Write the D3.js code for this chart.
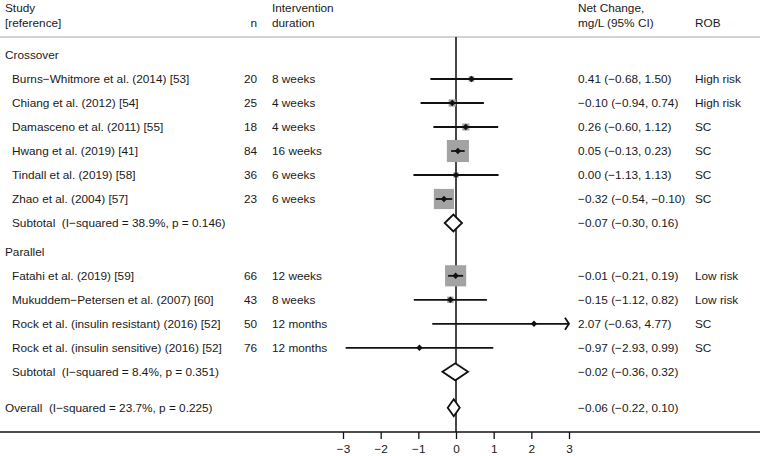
<!DOCTYPE html>
<html>
<head>
<meta charset="utf-8">
<script src="https://cdn.jsdelivr.net/npm/d3@7"></script>
<style>
  body { margin: 0; background: #fff; }
  text { font-family: "Liberation Sans", Arial, sans-serif; font-size: 11.8px; fill: #1a1a1a; white-space: pre; }
</style>
</head>
<body>
<div id="chart"></div>
<script>
/* Data */
const groups = ["Crossover", "Parallel"]

const studies = [
  "Burns−Whitmore et al. (2014) [53]",
  "Chiang et al. (2012) [54]",
  "Damasceno et al. (2011) [55]",
  "Hwang et al. (2019) [41]",
  "Tindall et al. (2019) [58]",
  "Zhao et al. (2004) [57]",
  "Fatahi et al. (2019) [59]",
  "Mukuddem−Petersen et al. (2007) [60]",
  "Rock et al. (insulin resistant) (2016) [52]",
  "Rock et al. (insulin sensitive) (2016) [52]",
]
const studyGroup = [0, 0, 0, 0, 0, 0, 1, 1, 1, 1]
const nValues = [20, 25, 18, 84, 36, 23, 66, 43, 50, 76]
const durations = ["8 weeks", "4 weeks", "4 weeks", "16 weeks", "6 weeks", "6 weeks",
                   "12 weeks", "8 weeks", "12 months", "12 months"]
const estimates = [0.41, -0.10, 0.26, 0.05, 0.00, -0.32, -0.01, -0.15, 2.07, -0.97]
const lower = [-0.68, -0.94, -0.60, -0.13, -1.13, -0.54, -0.21, -1.12, -0.63, -2.93]
const upper = [1.50, 0.74, 1.12, 0.23, 1.13, -0.10, 0.19, 0.82, 4.77, 0.99]
const rob = ["High risk", "High risk", "SC", "SC", "SC", "SC", "Low risk", "Low risk", "SC", "SC"]
// approximate % weights
const weights = [2.0, 3.4, 3.2, 31.3, 1.9, 26.1, 28.6, 2.6, 0.3, 0.7]

const pooledLabels = [
  "Subtotal  (I−squared = 38.9%, p = 0.146)",
  "Subtotal  (I−squared = 8.4%, p = 0.351)",
  "Overall  (I−squared = 23.7%, p = 0.225)",
]
const pooledEst = [-0.07, -0.02, -0.06]
const pooledLo = [-0.30, -0.36, -0.22]
const pooledHi = [0.16, 0.32, 0.10]

const xTicks = [-3, -2, -1, 0, 1, 2, 3]
/* End Data */

const width = 760
const height = 456

const svg = d3.select("#chart").append("svg")
    .attr("width", width)
    .attr("height", height)

const x = d3.scaleLinear().domain([-3, 3]).range([343, 569])
const y = d3.scaleLinear().domain([0, 1]).range([55, 79])
const boxSide = d3.scaleSqrt().domain([0, 100]).range([0, 39.5])

const fmt = d3.format(".2f")
const ci = (e, l, h) => `${fmt(e)} (${fmt(l)}, ${fmt(h)})`

// build row layout: group header, studies, subtotal, then a gap
const rows = []
let r = 0
groups.forEach((g, gi) => {
  rows.push({type: "group", label: g, row: r})
  r += 1
  studies.forEach((s, i) => {
    if (studyGroup[i] !== gi) return
    rows.push({type: "study", i, row: r})
    r += 1
  })
  rows.push({type: "pooled", i: gi, row: r})
  r += 1.2
})
rows.push({type: "pooled", i: 2, row: r + 0.3, overall: true})

const colStudy = 5
const colIndent = 12
const colN = 257
const colDur = 272
const colCI = 578
const colRob = 695

// header
const header = [
  {t: "Study", x: colStudy, y: 8},
  {t: "[reference]", x: colStudy, y: 23},
  {t: "n", x: colN, y: 23, anchor: "end"},
  {t: "Intervention", x: colDur, y: 8},
  {t: "duration", x: colDur, y: 23},
  {t: "Net Change,", x: colCI, y: 8},
  {t: "mg/L (95% CI)", x: colCI, y: 23},
  {t: "ROB", x: colRob, y: 23},
]
svg.selectAll("text.head").data(header).join("text")
    .attr("class", "head")
    .attr("x", d => d.x)
    .attr("y", d => d.y)
    .attr("dy", "0.35em")
    .attr("text-anchor", d => d.anchor || "start")
    .text(d => d.t)

svg.append("line")
    .attr("x1", 0).attr("x2", width)
    .attr("y1", 37).attr("y2", 37)
    .attr("stroke", "#a8a8a8")
    .attr("stroke-width", 1.2)

const axisY = 432

// zero line
svg.append("line")
    .attr("x1", x(0)).attr("x2", x(0))
    .attr("y1", 37).attr("y2", axisY)
    .attr("stroke", "#1a1a1a")
    .attr("stroke-width", 1.6)

const addText = (tx, ty, t, anchor) => svg.append("text")
    .attr("x", tx).attr("y", ty)
    .attr("dy", "0.35em")
    .attr("text-anchor", anchor || "start")
    .text(t)

const diamondPath = (e, l, h, cy, hh) =>
  `M${x(l)},${cy} L${x(e)},${cy - hh} L${x(h)},${cy} L${x(e)},${cy + hh} Z`

rows.forEach(d => {
  const cy = y(d.row)
  if (d.type === "group") {
    addText(colStudy, cy, d.label)
  } else if (d.type === "study") {
    const i = d.i
    addText(colIndent, cy, studies[i])
    addText(colN, cy, nValues[i], "end")
    addText(colDur, cy, durations[i])
    addText(colCI, cy, ci(estimates[i], lower[i], upper[i]))
    addText(colRob, cy, rob[i])

    const s = boxSide(weights[i])
    svg.append("rect")
        .attr("x", x(estimates[i]) - s / 2)
        .attr("y", cy - s / 2)
        .attr("width", s)
        .attr("height", s)
        .attr("fill", "#a3a3a3")

    const [d0, d1] = x.domain()
    const lo = Math.max(lower[i], d0)
    const hi = Math.min(upper[i], d1)
    svg.append("line")
        .attr("x1", x(lo)).attr("x2", x(hi))
        .attr("y1", cy).attr("y2", cy)
        .attr("stroke", "#111")
        .attr("stroke-width", 1.8)
    if (upper[i] > d1) {
      svg.append("path")
          .attr("d", `M${x(hi) - 4},${cy - 6} L${x(hi)},${cy} L${x(hi) - 4},${cy + 6}`)
          .attr("fill", "none")
          .attr("stroke", "#111")
          .attr("stroke-width", 1.8)
    }
    const px = x(estimates[i])
    svg.append("path")
        .attr("d", `M${px - 3.2},${cy} L${px},${cy - 3.2} L${px + 3.2},${cy} L${px},${cy + 3.2} Z`)
        .attr("fill", "#111")
  } else {
    const i = d.i
    addText(d.overall ? colStudy : colIndent, cy, pooledLabels[i])
    addText(colCI, cy, ci(pooledEst[i], pooledLo[i], pooledHi[i]))
    svg.append("path")
        .attr("d", diamondPath(pooledEst[i], pooledLo[i], pooledHi[i], cy, 8.5))
        .attr("fill", "#fff")
        .attr("stroke", "#111")
        .attr("stroke-width", 1.8)
        .attr("stroke-linejoin", "miter")
  }
})

// x axis
svg.append("line")
    .attr("x1", 0).attr("x2", width)
    .attr("y1", axisY).attr("y2", axisY)
    .attr("stroke", "#111")
    .attr("stroke-width", 1.6)

const axis = svg.append("g")
    .attr("transform", `translate(0,${axisY})`)
    .call(d3.axisBottom(x).tickValues(xTicks).tickSize(7).tickPadding(6).tickFormat(d3.format("d")))

axis.select(".domain").remove()
axis.selectAll(".tick line").attr("stroke", "#111").attr("stroke-width", 1.3)
axis.selectAll(".tick text")
    .attr("font-family", "Liberation Sans, Arial, sans-serif")
    .attr("font-size", 11.8)
    .attr("fill", "#1a1a1a")
</script>
</body>
</html>
